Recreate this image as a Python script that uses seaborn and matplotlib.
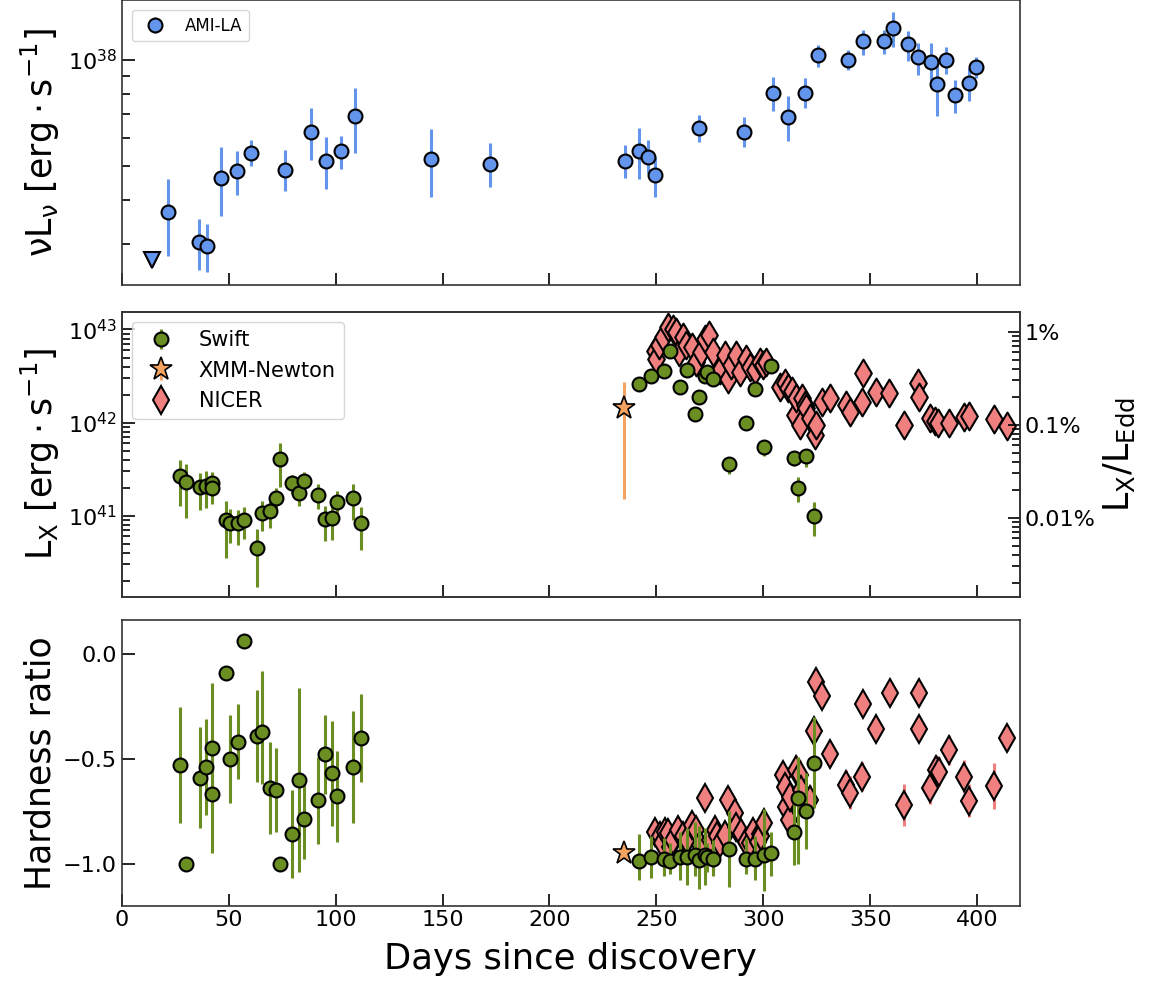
import numpy as np
import matplotlib
matplotlib.use("Agg")
import matplotlib.pyplot as plt
import matplotlib.ticker as mticker
import seaborn as sns

# AMI-LA radio light curve
ami_days = [21.5, 36.1, 39.7, 46.3, 53.7, 60.5, 76.4, 88.4, 95.3, 102.3, 109.3, 144.4, 172.3,
            235.1, 242.0, 246.0, 249.1, 269.9, 290.8, 304.6, 311.7, 319.5, 325.6, 339.5, 346.6,
            356.5, 360.6, 367.4, 372.3, 378.5, 381.3, 385.4, 389.4, 396.3, 399.5]
ami_lum = [3.69e37, 3.03e37, 2.96e37, 4.60e37, 4.82e37, 5.45e37, 4.87e37, 6.24e37, 5.15e37, 5.49e37,
           6.92e37, 5.23e37, 5.07e37, 5.16e37, 5.49e37, 5.31e37, 4.69e37, 6.40e37, 6.24e37, 8.05e37,
           6.88e37, 8.07e37, 1.03e38, 1.00e38, 1.13e38, 1.13e38, 1.23e38, 1.11e38, 1.02e38, 9.85e37,
           8.53e37, 1.00e38, 7.94e37, 8.62e37, 9.55e37]
ami_lo = [2.77e37, 2.52e37, 2.50e37, 3.60e37, 4.12e37, 4.98e37, 4.24e37, 5.19e37, 4.28e37, 4.89e37,
          5.45e37, 4.07e37, 4.35e37, 4.61e37, 4.59e37, 4.76e37, 4.07e37, 5.84e37, 5.64e37, 7.16e37,
          5.86e37, 7.28e37, 9.53e37, 9.33e37, 1.03e38, 1.04e38, 1.09e38, 9.95e37, 9.08e37, 8.59e37,
          6.92e37, 9.14e37, 7.05e37, 7.62e37, 8.87e37]
ami_hi = [4.59e37, 3.52e37, 3.41e37, 5.64e37, 5.50e37, 5.93e37, 5.53e37, 7.28e37, 6.04e37, 6.08e37,
          8.34e37, 6.37e37, 5.80e37, 5.73e37, 6.39e37, 5.93e37, 5.31e37, 6.97e37, 6.88e37, 8.93e37,
          7.89e37, 8.87e37, 1.10e38, 1.07e38, 1.22e38, 1.22e38, 1.37e38, 1.21e38, 1.12e38, 1.12e38,
          9.79e37, 1.09e38, 8.77e37, 9.49e37, 1.02e38]
ami_ul_day = [14.0]
ami_ul_lum = [2.70e37]

# Swift XRT
swift_days = [27.1, 30.1, 36.5, 39.5, 42.0, 42.0, 48.6, 50.7, 54.3, 57.1, 63.3, 65.8, 69.2, 72.0,
              74.2, 79.7, 83.0, 85.2, 91.9, 95.1, 98.4, 100.7, 108.0, 112.0,
              241.8, 247.5, 253.5, 256.3, 260.8, 264.1, 268.2, 270.0, 272.5, 273.4, 276.2, 284.0,
              291.9, 296.0, 300.3, 303.6, 314.1, 316.0, 320.1, 323.5]
swift_lx = [2.65e41, 2.32e41, 2.02e41, 2.10e41, 2.23e41, 1.97e41, 9.06e40, 8.34e40, 8.26e40, 9.06e40,
            4.49e40, 1.07e41, 1.11e41, 1.54e41, 4.11e41, 2.26e41, 1.76e41, 2.38e41, 1.68e41, 9.14e40,
            9.36e40, 1.40e41, 1.54e41, 8.26e40,
            2.62e42, 3.19e42, 3.61e42, 5.84e42, 2.39e42, 3.65e42, 1.24e42, 1.90e42, 3.19e42, 3.50e42,
            2.92e42, 3.61e41, 9.88e41, 2.30e42, 5.45e41, 4.06e42, 4.15e41, 1.99e41, 4.43e41, 9.91e40]
swift_lx_lo = [1.26e41, 9.45e40, 1.15e41, 1.21e41, 1.34e41, 1.45e41, 3.50e40, 5.08e40, 4.88e40, 5.61e40,
               1.72e40, 6.78e40, 7.31e40, 1.13e41, 2.02e41, 1.71e41, 1.28e41, 1.86e41, 1.18e41, 5.38e40,
               5.51e40, 9.60e40, 8.98e40, 4.31e40,
               2.45e42, 2.98e42, 3.38e42, 5.45e42, 2.23e42, 3.40e42, 1.15e42, 1.77e42, 2.98e42, 3.27e42,
               2.72e42, 2.81e41, 9.10e41, 2.14e42, 4.43e41, 3.80e42, 3.46e41, 1.39e41, 3.37e41, 6.10e40]
swift_lx_hi = [3.98e41, 3.61e41, 2.86e41, 3.01e41, 2.98e41, 2.81e41, 1.45e41, 1.18e41, 1.15e41, 1.23e41,
               7.18e40, 1.45e41, 1.57e41, 1.99e41, 6.07e41, 2.77e41, 2.29e41, 2.93e41, 2.19e41, 1.28e41,
               1.45e41, 1.86e41, 2.19e41, 1.23e41,
               2.80e42, 3.41e42, 3.86e42, 6.25e42, 2.56e42, 3.90e42, 1.33e42, 2.03e42, 3.41e42, 3.74e42,
               3.12e42, 4.07e41, 1.07e42, 2.46e42, 5.92e41, 4.34e42, 4.81e41, 2.59e41, 5.22e41, 1.39e41]
swift_hr = [-0.530, -1.0, -0.590, -0.540, -0.449, -0.670, -0.090, -0.500, -0.419, 0.059, -0.392, -0.371,
            -0.638, -0.649, -1.0, -0.859, -0.600, -0.789, -0.698, -0.478, -0.570, -0.679, -0.540, -0.400,
            -0.990, -0.970, -0.979, -0.990, -0.970, -0.970, -0.959, -0.982, -0.959, -0.970, -0.979, -0.930,
            -0.979, -0.979, -0.959, -0.948, -0.848, -0.689, -0.749, -0.519]
swift_hr_lo = [-0.808, -1.0, -0.829, -0.768, -0.75, -0.95, -0.11, -0.710, -0.598, 0.04, -0.610, -0.62,
               -0.859, -0.848, -1.0, -1.067, -1.038, -0.979, -0.908, -0.670, -0.819, -0.898, -0.808, -0.610,
               -1.08, -1.07, -1.06, -1.05, -1.08, -1.10, -1.06, -1.12, -1.10, -1.04, -1.06, -1.11,
               -1.05, -1.08, -1.13, -1.06, -1.006, -1.00, -0.93, -0.736]
swift_hr_hi = [-0.252, -1.0, -0.351, -0.311, -0.141, -0.40, -0.07, -0.292, -0.241, 0.08, -0.173, -0.083,
               -0.422, -0.451, -1.0, -0.649, -0.162, -0.602, -0.490, -0.292, -0.321, -0.462, -0.271, -0.194,
               -0.86, -0.87, -0.88, -0.90, -0.85, -0.83, -0.80, -0.82, -0.83, -0.90, -0.89, -0.75,
               -0.88, -0.87, -0.74, -0.85, -0.70, -0.49, -0.57, -0.30]

# XMM-Newton
xmm_day = [234.8]
xmm_lx = [1.45e42]
xmm_lx_lo = [1.51e41]
xmm_lx_hi = [2.73e42]
xmm_hr = [-0.950]

# NICER luminosity
nicer_lx_days = [249.2, 249.7, 251.2, 253.1, 255.4, 257.8, 259.3, 260.6, 262.4, 264.0, 266.8, 268.7,
                 271.0, 272.6, 274.6, 276.5, 279.6, 281.9, 283.5, 285.0, 287.4, 288.9, 291.7, 293.6,
                 295.9, 298.3, 299.8, 301.4,
                 307.6, 310.0, 311.5, 313.5, 314.6, 315.4, 317.0, 318.2, 319.3, 320.1, 321.6, 324.0,
                 324.8, 327.6, 331.3,
                 338.8, 340.7, 346.3, 346.6, 352.8, 358.7, 365.6, 372.4, 372.7, 377.7, 380.0, 381.6,
                 386.6, 393.6, 396.1, 407.6, 413.8]
nicer_lx = [5.84e42, 4.87e42, 6.79e42, 8.34e42, 1.07e43, 1.02e43, 9.44e42, 5.75e42, 8.30e42, 6.80e42,
            6.50e42, 4.49e42, 5.75e42, 7.90e42, 8.80e42, 5.75e42, 3.66e42, 5.30e42, 2.96e42, 4.13e42,
            5.30e42, 3.50e42, 4.87e42, 3.96e42, 3.66e42, 4.49e42, 4.13e42, 4.49e42,
            2.43e42, 2.63e42, 2.34e42, 2.17e42, 1.21e42, 1.82e42, 9.40e41, 1.82e42, 1.55e42, 1.43e42,
            1.11e42, 7.35e41, 9.40e41, 1.68e42, 1.82e42,
            1.55e42, 1.31e42, 1.68e42, 3.39e42, 2.15e42, 2.07e42, 9.40e41, 2.63e42, 1.90e42, 1.11e42,
            1.03e42, 9.80e41, 9.80e41, 1.16e42, 1.17e42, 1.09e42, 9.20e41]

# NICER hardness ratio
nicer_hr_days = [249.2, 251.5, 252.6, 253.9, 255.4, 256.5, 257.8, 260.1, 262.4, 264.5, 266.4, 268.7,
                 270.5, 272.9, 274.9, 277.2, 278.5, 279.6, 281.9, 283.5, 286.6, 287.4, 289.7, 291.7,
                 293.5, 295.1, 297.5, 298.3, 299.1, 300.1,
                 309.2, 310.0, 310.7, 312.0, 312.3, 315.1, 317.0, 317.8, 321.6, 323.6, 324.8, 327.4, 331.3,
                 338.5, 340.7, 346.3, 346.5, 352.8, 359.0, 365.7, 372.6, 372.7, 378.0, 380.8, 381.9,
                 386.7, 393.6, 396.1, 407.6, 413.8]
nicer_hr = [-0.848, -0.871, -0.90, -0.848, -0.855, -0.92, -0.887, -0.840, -0.871, -0.89, -0.816, -0.840,
            -0.91, -0.689, -0.887, -0.840, -0.87, -0.903, -0.863, -0.697, -0.760, -0.824, -0.855, -0.895,
            -0.90, -0.848, -0.895, -0.86, -0.871, -0.808,
            -0.578, -0.636, -0.729, -0.792, -0.681, -0.554, -0.578, -0.649, -0.697, -0.368, -0.136, -0.201,
            -0.479,
            -0.625, -0.662, -0.586, -0.240, -0.359, -0.189, -0.720, -0.189, -0.359, -0.638, -0.554, -0.562,
            -0.459, -0.586, -0.700, -0.629, -0.403]
nicer_hr_err = [0.04, 0.04, 0.04, 0.04, 0.04, 0.04, 0.04, 0.04, 0.04, 0.04, 0.04, 0.04,
                0.04, 0.03, 0.04, 0.04, 0.04, 0.04, 0.04, 0.05, 0.05, 0.04, 0.04, 0.04,
                0.04, 0.04, 0.04, 0.04, 0.04, 0.04,
                0.06, 0.06, 0.06, 0.06, 0.06, 0.07, 0.07, 0.06, 0.07, 0.05, 0.02, 0.02, 0.03,
                0.07, 0.08, 0.07, 0.02, 0.02, 0.02, 0.10, 0.02, 0.02, 0.08, 0.07, 0.07,
                0.07, 0.08, 0.08, 0.11, 0.06]

L_EDD = 9.5e44

sns.set_theme(style="ticks")
plt.rcParams["font.family"] = ["DejaVu Sans"]
plt.rcParams["mathtext.fontset"] = "dejavusans"
plt.rcParams["axes.edgecolor"] = "0.2"
plt.rcParams["axes.linewidth"] = 1.2
for key in ("text.color", "axes.labelcolor", "xtick.color", "ytick.color"):
    plt.rcParams[key] = "black"

c_ami = "cornflowerblue"
c_swift = "olivedrab"
c_xmm = "sandybrown"
c_nicer = "lightcoral"

fig = plt.figure(figsize=(11.62, 9.83), dpi=100)
ax1 = fig.add_axes([0.1047, 0.7101, 0.7732, 0.2899])
ax2 = fig.add_axes([0.1047, 0.3927, 0.7732, 0.2904], sharex=ax1)
ax3 = fig.add_axes([0.1047, 0.0788, 0.7732, 0.2904], sharex=ax1)


def asym(y, lo, hi):
    y, lo, hi = np.array(y), np.array(lo), np.array(hi)
    return [y - lo, hi - y]


mk = dict(mec="black", mew=1.5, capsize=0, elinewidth=2.2, ls="none")

# top: radio
ax1.errorbar(ami_days, ami_lum, yerr=asym(ami_lum, ami_lo, ami_hi), fmt="o", ms=10,
             color=c_ami, ecolor=c_ami, label="AMI-LA", **mk)
ax1.plot(ami_ul_day, ami_ul_lum, "v", ms=12, color=c_ami, mec="black", mew=1.5)
ax1.set_yscale("log")
ax1.set_ylim(2.29e37, 1.48e38)
ax1.set_ylabel(r"$\mathrm{\nu L_{\nu}\ [erg \cdot s^{-1}]}$", fontsize=25)
ax1.legend(loc="upper left", fontsize=12, borderaxespad=0.6)

# middle: X-ray luminosity
sns.scatterplot(x=nicer_lx_days, y=nicer_lx, marker="d", s=200, color=c_nicer,
                edgecolor="black", linewidth=1.5, ax=ax2, zorder=2)
h_sw = ax2.errorbar(swift_days, swift_lx, yerr=asym(swift_lx, swift_lx_lo, swift_lx_hi), fmt="o",
                    ms=10, color=c_swift, ecolor=c_swift, zorder=3, **mk)
h_xmm = ax2.errorbar(xmm_day, xmm_lx, yerr=asym(xmm_lx, xmm_lx_lo, xmm_lx_hi), fmt="*", ms=17,
                     color=c_xmm, ecolor=c_xmm, zorder=4, mec="black", mew=1.2, capsize=0,
                     elinewidth=2.2, ls="none")
h_nic = ax2.plot([], [], "d", ms=14, color=c_nicer, mec="black", mew=1.5)[0]
ax2.set_yscale("log")
ax2.set_ylim(1.34e40, 1.56e43)
ax2.set_ylabel(r"$\mathrm{L_X\ [erg \cdot s^{-1}]}$", fontsize=25)
ax2.legend([h_sw, h_xmm, h_nic], ["Swift", "XMM-Newton", "NICER"], loc="upper left",
           fontsize=15, borderaxespad=0.5)

ax2r = ax2.twinx()
ax2r.set_yscale("log")
lo2, hi2 = ax2.get_ylim()
ax2r.set_ylim(lo2 / L_EDD * 100, hi2 / L_EDD * 100)
ax2r.set_yticks([0.01, 0.1, 1])
ax2r.yaxis.set_major_formatter(mticker.FuncFormatter(lambda v, p: f"{v:g}%"))
ax2r.yaxis.set_minor_locator(mticker.LogLocator(subs=np.arange(2, 10)))
ax2r.yaxis.set_minor_formatter(mticker.NullFormatter())
ax2r.set_ylabel(r"$\mathrm{L_X/L_{Edd}}$", fontsize=25)

# bottom: hardness ratio
ax3.errorbar(nicer_hr_days, nicer_hr, yerr=nicer_hr_err, fmt="d", ms=14, color=c_nicer,
             ecolor=c_nicer, zorder=2, **mk)
ax3.errorbar(swift_days, swift_hr, yerr=asym(swift_hr, swift_hr_lo, swift_hr_hi), fmt="o", ms=10,
             color=c_swift, ecolor=c_swift, zorder=3, **mk)
ax3.plot(xmm_day, xmm_hr, "*", ms=17, color=c_xmm, mec="black", mew=1.2, zorder=4)
ax3.set_ylim(-1.2, 0.16)
ax3.set_yticks([-1.0, -0.5, 0.0])
ax3.set_ylabel("Hardness ratio", fontsize=25)
ax3.set_xlim(0, 420)
ax3.set_xticks(np.arange(0, 401, 50))
ax3.set_xlabel("Days since discovery", fontsize=25.5, labelpad=8)

for ax in (ax1, ax2):
    ax.yaxis.set_minor_formatter(mticker.NullFormatter())
    ax.tick_params(axis="x", labelbottom=False)

for ax in (ax1, ax2, ax3, ax2r):
    ax.tick_params(which="both", direction="in", labelsize=16, width=1.2)
    ax.tick_params(which="major", length=9)
    ax.tick_params(which="minor", length=6)

fig.align_ylabels([ax1, ax2, ax3])
fig.savefig("out.png", dpi=100)
